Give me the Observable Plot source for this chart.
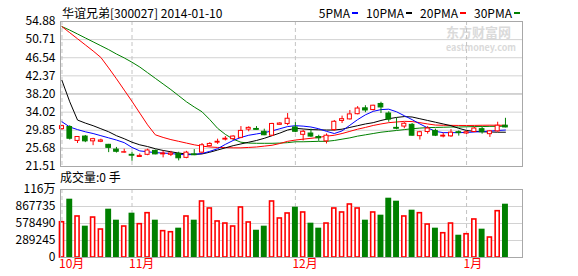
<!DOCTYPE html>
<html><head><meta charset="utf-8">
<script src="https://cdn.jsdelivr.net/npm/d3@7"></script>
<script src="https://cdn.jsdelivr.net/npm/@observablehq/plot@0.6"></script>
<style>
body{margin:0;background:#fff;}
#wrap{position:relative;width:578px;height:276px;overflow:hidden;font-family:"Noto Sans CJK SC",sans-serif;background:#fff;}
.t{position:absolute;white-space:nowrap;font-size:12px;line-height:12px;color:#000;}
#wrap svg{position:absolute;left:0;}
#legend{position:absolute;right:58px;top:7px;display:flex;gap:8px;font-size:12px;line-height:12px;}
#legend .it{display:flex;align-items:center;}
#legend .dash{display:inline-block;width:6px;height:2px;margin-left:2px;}
</style></head><body><div id="wrap"></div>
<script>
// ---- data ----
const title = "华谊兄弟[300027] 2014-01-10";
const volTitle = "成交量:0 手";
const maNames = ["5PMA", "10PMA", "20PMA", "30PMA"];
const maColors = ["#0000ff", "#000000", "#ff0000", "#008000"];
const monthLabels = ["10月", "11月", "12月", "1月"];
const monthIdx = [0, 9, 30, 52];
const priceTicks = [21.51, 25.68, 29.85, 34.02, 38.20, 42.37, 46.54, 50.71, 54.88];
const volTicks = [0, 289245, 578490, 867735, 1156980];
const volTickLabels = ["0", "289245", "578490", "867735", "116万"];

const open = [30.1,30.6,27.4,28.4,27.3,27.2,26.5,25.4,24.7,24.2, 23.7,24.2,25.1,24.3,24.2,24.4,23.5,24.3,24.7,26.2, 27.0,27.7,27.8,28.1,30.0,30.15,29.5,28.6,31.1,31.3, 30.5,28.8,29.1,28.3,27.3,29.9,32.0,32.35,33.55,34.9, 34.5,35.9,33.7,30.4,30.7,31.1,28.5,29.45,29.7,28.4, 28.45,29.4,29.1,29.45,30.1,28.95,29.6,30.9];
const close = [30.8,27.9,28.3,27.3,27.8,27.5,25.8,24.9,24.8,24.0, 23.95,25.2,24.3,24.5,24.5,23.4,24.7,24.1,26.4,26.7, 27.2,27.9,28.4,29.7,30.4,29.95,28.7,31.3,31.4,32.5, 29.5,29.5,28.4,28.0,28.6,31.8,32.4,33.5,34.85,34.4, 35.5,35.1,32.3,30.2,31.35,28.6,29.4,30.25,28.6,28.6, 29.3,29.2,29.4,30.25,29.4,29.6,30.9,30.5];
const high = [31.0,30.9,28.4,28.65,28.0,27.8,26.6,25.9,25.5,24.8, 24.4,25.5,25.3,25.0,25.0,24.8,25.0,25.4,26.8,27.0, 27.8,28.4,28.6,30.7,30.65,30.7,30.1,31.45,31.6,33.7, 31.6,29.85,30.1,28.7,29.0,32.1,33.1,34.4,35.3,35.5, 35.6,36.3,34.1,32.7,31.6,31.4,29.6,30.7,30.1,29.2, 30.0,29.7,29.6,30.5,30.5,29.8,31.7,32.6];
const low = [29.9,27.6,26.8,27.0,26.3,27.0,24.7,24.6,24.6,22.7, 23.7,24.0,24.2,23.5,23.8,22.8,23.3,24.0,24.4,26.0, 26.6,27.4,27.6,27.9,29.5,29.9,28.6,28.4,31.0,30.9, 29.3,27.4,28.2,27.3,26.7,29.6,31.4,32.2,33.4,33.9, 34.3,33.7,31.7,29.95,30.2,28.5,27.6,28.95,28.4,28.1, 28.2,28.5,28.9,29.3,28.95,28.2,29.4,30.4];
const volume = [600000,992000,698000,533000,680000,476000,822000,635000,527000,754000, 567000,754000,635000,448000,430000,499000,698000,635000,953000,834000, 613000,578000,527000,851000,596000,464000,533000,953000,664000,749000, 856000,766000,584000,499000,578000,834000,766000,902000,834000,635000, 766000,720000,1009000,958000,698000,805000,754000,561000,499000,413000, 578000,379000,396000,647000,482000,340000,788000,907000];

const ma5 = [31.8,30.6,30.0,29.5,29.1,28.6,28.1,27.6,27.0,25.9, 25.1,24.9,24.7,24.6,24.5,24.3,24.2,24.3,24.5,25.0, 25.6,26.6,27.5,28.2,28.7,29.0,29.3,29.7,30.2,30.7, 30.9,30.8,30.6,30.2,29.6,29.1,29.7,31.0,32.3,33.4, 34.2,34.6,34.7,34.1,33.2,32.3,31.3,30.4,29.6,29.3, 29.3,29.3,29.35,29.45,29.55,29.65,29.8,29.9];
const ma10 = [41.3,36.4,32.2,31.5,30.9,30.2,29.5,28.6,27.9,27.1, 26.5,26.1,25.6,25.2,24.9,24.6,24.4,24.3,24.4,24.8, 25.3,25.8,26.3,26.7,27.1,27.5,28.0,28.6,29.2,29.9, 30.3,30.15,30.0,29.95,29.9,29.9,30.1,30.5,30.9,31.3, 31.6,32.1,32.5,32.8,33.0,32.9,32.5,32.1,31.7,31.3, 30.9,30.3,29.8,29.6,29.5,29.45,29.4,29.4];
const ma20 = [53.7,52.3,50.9,49.5,48.1,46.6,44.2,41.7,39.1,36.5, 33.8,31.1,28.8,28.2,27.7,27.3,26.9,26.5,26.2,26.0, 25.9,25.85,25.8,25.8,25.9,26.0,26.2,26.4,26.8,27.3, 27.6,27.8,28.0,28.2,28.5,28.7,29.1,29.6,30.1,30.5, 30.95,31.3,31.6,31.75,31.9,31.85,31.6,31.3,31.05,31.0, 30.98,30.96,30.95,30.97,31.0,31.02,31.0,31.0];
const ma30 = [53.7,52.9,52.0,51.1,50.2,49.3,48.4,47.4,46.5,45.5, 44.4,43.1,41.8,40.5,39.2,37.8,36.4,35.2,34.1,32.3, 30.3,28.9,27.8,27.1,26.9,26.85,26.85,26.85,26.9,27.0, 27.2,27.2,27.25,27.3,27.3,27.5,27.8,28.1,28.5,28.8, 29.1,29.4,29.6,29.8,30.0,30.2,30.35,30.45,30.5,30.55, 30.6,30.6,30.65,30.7,30.7,30.75,30.75,30.8];

// ---- tables ----
const candles = open.map((o, i) => ({i, open: o, close: close[i], high: high[i], low: low[i], vol: volume[i]}));
const up = candles.filter(d => d.close >= d.open);
const down = candles.filter(d => d.close < d.open);
const maSeries = [ma5, ma10, ma20, ma30].map(arr => arr.map((v, i) => ({i, v})));
const monthData = monthLabels.map((m, k) => ({label: m, i: monthIdx[k]}));

const wrap = document.getElementById("wrap");
function addText(txt, left, top, css) {
  const s = document.createElement("div");
  s.className = "t"; s.textContent = txt;
  s.style.left = left + "px"; s.style.top = top + "px";
  if (css) Object.assign(s.style, css);
  wrap.appendChild(s);
}
// watermark
addText("东方财富网", 446, 25, {fontSize: "13px", lineHeight: "13px", fontWeight: "bold", color: "#dadada"});
addText("eastmoney.com", 446, 43, {fontSize: "9px", lineHeight: "9px", fontWeight: "bold", color: "#dadada"});

const X = {type: "linear", domain: [-0.19, 59.19], axis: null};
const style = {fontFamily: "'Noto Sans CJK SC', sans-serif", fontSize: "12px", color: "#000", background: "transparent", overflow: "visible"};

const price = Plot.plot({
  width: 578, height: 168, marginLeft: 60, marginRight: 56, marginTop: 21, marginBottom: 2,
  x: X, y: {domain: [21.51, 54.88], label: null}, style,
  marks: [
    Plot.ruleY(priceTicks.filter(v => v !== 38.20), {stroke: "#d2d2d2"}),
    Plot.ruleY([38.20], {stroke: "#a8a8a8"}),
    Plot.ruleX(monthIdx, {stroke: "#c4c4c4", strokeDasharray: "4,3"}),
    Plot.axisY(priceTicks, {tickSize: 0, tickPadding: 5, label: null, tickFormat: d => d.toFixed(2)}),
    Plot.line(maSeries[3], {x: "i", y: "v", stroke: maColors[3], strokeWidth: 1}),
    Plot.line(maSeries[2], {x: "i", y: "v", stroke: maColors[2], strokeWidth: 1}),
    Plot.line(maSeries[1], {x: "i", y: "v", stroke: maColors[1], strokeWidth: 1}),
    Plot.line(maSeries[0], {x: "i", y: "v", stroke: maColors[0], strokeWidth: 1}),
    Plot.ruleX(up, {x: "i", y1: "low", y2: "high", stroke: "#ff0000"}),
    Plot.ruleX(down, {x: "i", y1: "low", y2: "high", stroke: "#008000"}),
    Plot.rect(up, {x1: d => d.i - 0.26, x2: d => d.i + 0.26, y1: "open", y2: "close", fill: "#fff", stroke: "#ff0000"}),
    Plot.rect(down, {x1: d => d.i - 0.3, x2: d => d.i + 0.3, y1: "open", y2: "close", fill: "#008000", stroke: "#008000"}),
    Plot.frame({stroke: "#a8a8a8"})
  ]
});
price.style.top = "0px";
wrap.appendChild(price);

const vol = Plot.plot({
  width: 578, height: 91, marginLeft: 60, marginRight: 56, marginTop: 4, marginBottom: 19,
  x: X, y: {domain: [0, 1156980], label: null}, style,
  marks: [
    Plot.ruleY(volTicks.slice(1, 4), {stroke: "#d2d2d2"}),
    Plot.ruleX(monthIdx, {stroke: "#c4c4c4", strokeDasharray: "4,3"}),
    Plot.rect(up, {x1: d => d.i - 0.26, x2: d => d.i + 0.26, y1: 0, y2: "vol", fill: "#fff", stroke: "#ff0000", strokeWidth: 1.6}),
    Plot.rect(down, {x1: d => d.i - 0.38, x2: d => d.i + 0.38, y1: 0, y2: "vol", fill: "#008000"}),
    Plot.frame({stroke: "#a8a8a8"}),
    Plot.axisY(volTicks, {tickSize: 0, tickPadding: 5, label: null, tickFormat: d => volTickLabels[volTicks.indexOf(d)]}),
    Plot.text(monthData, {x: "i", text: "label", frameAnchor: "bottom", dy: 10, dx: -3, textAnchor: "start", fill: "#ff0000"})
  ]
});
vol.style.top = "185px";
wrap.appendChild(vol);

addText(title, 62, 7);
addText(volTitle, 60, 171);

const lg = document.createElement("div");
lg.id = "legend";
maNames.forEach((n, k) => {
  const it = document.createElement("div"); it.className = "it";
  const tx = document.createElement("span"); tx.textContent = n;
  const ds = document.createElement("span"); ds.className = "dash"; ds.style.background = maColors[k];
  it.appendChild(tx); it.appendChild(ds); lg.appendChild(it);
});
wrap.appendChild(lg);
</script></body></html>
